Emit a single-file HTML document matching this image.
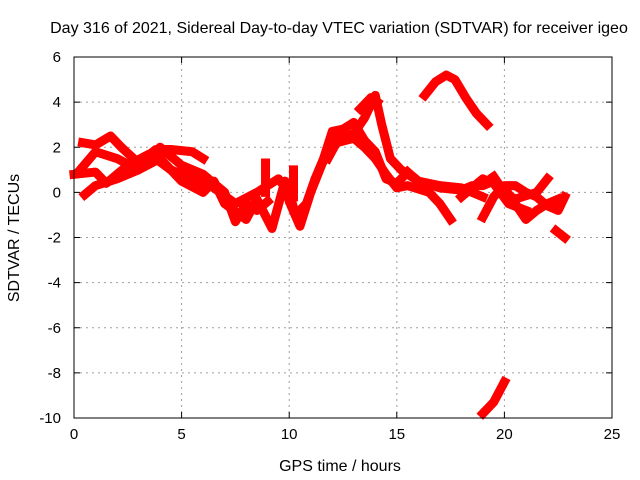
<!DOCTYPE html>
<html><head><meta charset="utf-8"><style>
body{margin:0;background:#fff;}
svg{display:block;font-family:"Liberation Sans",sans-serif;}
</style></head><body>
<svg id="chart" width="640" height="480" viewBox="0 0 640 480">
<text x="339" y="33" font-size="16" text-anchor="middle">Day 316 of 2021, Sidereal Day-to-day VTEC variation (SDTVAR) for receiver igeo</text>
<text x="340" y="471" font-size="16" text-anchor="middle">GPS time / hours</text>
<text transform="translate(19,238) rotate(-90)" font-size="16" text-anchor="middle">SDTVAR / TECUs</text>
<g id="grid"></g><g id="marks"></g>
<rect x="74" y="57" width="538" height="361" fill="none" stroke="#000" stroke-width="1"/>
</svg>
<script>
const xTicks=[0,5,10,15,20,25];
const yTicks=[6,4,2,0,-2,-4,-6,-8,-10];
const seriesA=[[0.4,2.2],[1,2.1],[1.7,2.5],[2.2,2.0],[3,1.3],[3.8,1.9],[4.5,1.9],[5.5,1.8],[6,1.5]];
const seriesB=[[0.2,0.9],[1,1.8],[2,1.5],[3,1.0],[4,2.0],[5,1.2],[6,0.8],[7,0.0],[7.5,-1.3],[8,-0.5],[8.5,-0.8],[9,-0.4]];
const seriesC=[[0.5,-0.1],[1,0.3],[2,0.6],[3,1.0],[4,1.5],[5,0.5],[6,0.0],[6.5,0.5],[7,-0.5],[8,-1.2],[8.5,-0.3],[9.2,-1.6],[9.8,0.5],[10,-0.4],[10.5,-1.5],[11,0.0],[11.5,1.2],[12,2.3],[13,2.6],[13.5,3.3],[14,4.3],[14.3,3.0],[14.7,1.5],[15.2,1.0],[16,0.5],[17,0.3],[18,0.2],[19,-0.2]];
const seriesD=[[0,0.8],[1,0.9],[1.5,0.4],[2.5,1.2],[3.5,1.7],[4.5,1.0],[5.5,0.6],[6.5,0.2],[7.5,-0.5],[8.5,0.0],[9.5,0.6],[10,0.0],[10.3,-1.0],[10.8,-0.5],[11.2,0.6],[11.6,1.5],[12,2.7],[12.5,2.8],[13,3.1],[13.5,2.3],[14,1.8],[14.5,0.6],[15,0.4],[15.5,0.9]];
const seriesE=[[11.8,1.5],[12.2,2.2],[13,2.4],[13.5,2.0],[14,1.5],[14.5,0.8],[15,0.2],[15.5,0.3],[16.5,0.0],[17,-0.5],[17.5,-1.2]];
const seriesF=[[15.5,0.9],[16,0.5],[17,0.2],[18,0.1],[18.5,0.3],[19,0.3],[19.5,0.5],[20,0.2],[20.5,-0.5],[21,-1.2],[21.5,-0.8],[22,-0.5],[22.5,-0.3]];
const seriesG=[[13.3,3.7],[13.8,4.2],[14.1,4.0]];
const seriesH=[[16.3,4.3],[16.8,4.9],[17.3,5.2],[17.7,5.0],[18.2,4.2],[18.7,3.5],[19.2,3.0]];
const seriesI=[[19,-9.8],[19.5,-9.3],[20,-8.4]];
const seriesJ=[[22.4,-1.7],[22.8,-2.0]];
const seriesK=[[19,-1.1],[19.5,-0.2],[20,0.3],[20.5,0.3],[21,0.0],[21.5,-0.2],[22,-0.6],[22.5,-0.8],[22.8,-0.2]];
const seriesL=[[19.5,0.7],[20,0.0],[20.5,-0.3],[21.5,0.0],[22,0.6]];
const seriesM=[[18,-0.2],[18.5,0.2],[19,0.6],[19.5,0.4],[20.2,-0.5],[21,-0.8]];
const seriesN=[[8.9,1.3],[8.9,0.0]];
const seriesO=[[10.2,1.0],[10.2,-0.2]];
const allSeries=[seriesA,seriesB,seriesC,seriesD,seriesE,seriesF,seriesG,seriesH,seriesI,seriesJ,seriesK,seriesL,seriesM,seriesN,seriesO];
const X0=74,X1=612,Y0=57,Y1=418;
const xs=v=>X0+(v-0)/(25-0)*(X1-X0);
const ys=v=>Y1-(v+10)/(16)*(Y1-Y0);
const NS="http://www.w3.org/2000/svg";
const grid=document.getElementById('grid'),marks=document.getElementById('marks');
function mk(tag,attrs,parent){const e=document.createElementNS(NS,tag);for(const k in attrs)e.setAttribute(k,attrs[k]);parent.appendChild(e);return e;}
xTicks.forEach(t=>{const x=xs(t);
 if(t>0&&t<25){const l=mk('line',{x1:x,x2:x,y1:Y0,y2:Y1,stroke:'#a0a0a0','stroke-dasharray':'2,4'},grid);
 
 }
 mk('line',{x1:x,x2:x,y1:Y1,y2:Y1-6,stroke:'#000'},grid);
 mk('line',{x1:x,x2:x,y1:Y0,y2:Y0+6,stroke:'#000'},grid);
 const tx=mk('text',{x:x,y:Y1+21,'font-size':15,'text-anchor':'middle'},grid);tx.textContent=t;
 
 
});
yTicks.forEach(t=>{const y=ys(t);
 if(t<6&&t>-10){const l=mk('line',{x1:X0,x2:X1,y1:y,y2:y,stroke:'#a0a0a0','stroke-dasharray':'2,4'},grid);
 
 }
 mk('line',{x1:X0,x2:X0+6,y1:y,y2:y,stroke:'#000'},grid);
 mk('line',{x1:X1,x2:X1-6,y1:y,y2:y,stroke:'#000'},grid);
 const tx=mk('text',{x:X0-13,y:y+5,'font-size':15,'text-anchor':'end'},grid);tx.textContent=t;
 
 
});
allSeries.forEach((s,i)=>{
 const p=mk('polyline',{points:s.map(d=>xs(d[0])+','+ys(d[1])).join(' '),fill:'none',stroke:'#ff0000','stroke-width':9,'stroke-linejoin':'round','stroke-linecap':'square'},marks);
 
 
});
</script>
</body></html>
